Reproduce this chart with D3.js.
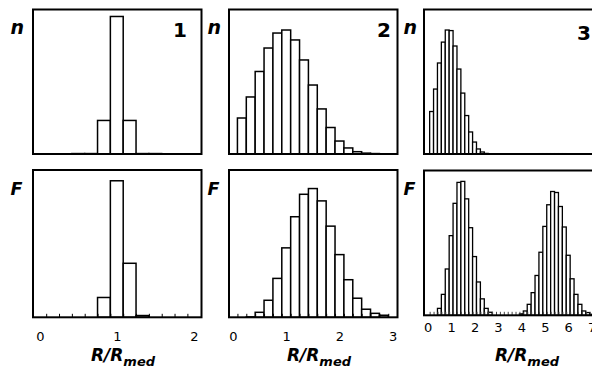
<!DOCTYPE html>
<html>
<head>
<meta charset="utf-8">
<script src="https://cdn.jsdelivr.net/npm/d3@7/dist/d3.min.js"></script>
<style>
  html, body { margin: 0; padding: 0; background: #fff; }
  svg { display: block; font-family: "DejaVu Sans", Verdana, sans-serif; }
</style>
</head>
<body>
<svg id="chart" width="592" height="372"></svg>
<script>
// Histogram bin width in units of R/Rmed; bin k (1-based) is centred at k/6.
const BIN = 1 / 6;

// Number distributions n (relative heights, % of full scale), bins k = 1, 2, ...
const nCounts1 = [0, 0, 0.3, 0.3, 23.3, 95.5, 23.3, 0.3, 0.3, 0, 0];
const nCounts2 = [25.0, 39.6, 57.3, 73.6, 84.0, 86.1, 79.2, 65.3, 47.9, 31.3, 18.4, 9.0, 4.2, 1.6, 0.6, 0.3, 0];
const nCounts3 = [29.5, 45.1, 63.2, 77.7, 86.1, 85.7, 75.0, 59.0, 42.3, 26.7, 15.3, 8.3, 3.5, 1.4, 0.4,
                  0, 0, 0, 0, 0, 0, 0, 0, 0, 0, 0, 0, 0,
                  0.25, 0.25, 0.25, 0.25, 0.25, 0.25, 0.25,
                  0, 0, 0, 0, 0, 0];

// Weighted distributions F (relative heights, % of full scale)
const fCounts1 = [0, 0, 0, 0, 13.5, 93.0, 36.8, 1.2, 0, 0, 0];
const fCounts2 = [0, 0.3, 3.4, 11.6, 26.5, 47.3, 68.5, 83.8, 87.7, 79.3, 62.1, 42.7, 25.6, 13.0, 5.5, 2.7, 1.4];
const fCounts3 = [0, 0, 4.8, 14.5, 32.1, 55.2, 77.6, 92.1, 92.8, 80.7, 60.7, 40.7, 23.1, 11.4, 4.8, 2.1,
                  0, 0, 0, 0, 0, 0, 0,
                  1.0, 3.0, 7.6, 15.7, 27.6, 43.7, 61.6, 76.6, 85.8, 85.1, 75.4, 61.2, 41.6, 25.3, 14.5, 7.6, 3.0, 1.9, 0.7];

// Tick labels on the R/Rmed axes
const ticks1 = [0, 1, 2];
const ticks2 = [0, 1, 2, 3];
const ticks3 = [0, 1, 2, 3, 4, 5, 6, 7];

// Number of bin edges marked along each F baseline
const edgeCount1 = 12;
const edgeCount2 = 18;
const edgeCount3 = 43;

const panelLabels = ["1", "2", "3"];

const svg = d3.select("#chart");

// Column geometry
const columns = [
  { left: 33, right: 201.5, domain: [-0.088, 2.1], nCounts: nCounts1, fCounts: fCounts1, ticks: ticks1,
    edges: edgeCount1, barStroke: 1.5, tickColor: "#000", label: panelLabels[0],
    labelX: 187, labelY: 37, yLabelX: 10.5, titleX: 123 },
  { left: 229, right: 397.5, domain: [-0.075, 3.09], nCounts: nCounts2, fCounts: fCounts2, ticks: ticks2,
    edges: edgeCount2, barStroke: 1.5, tickColor: "#000", label: panelLabels[1],
    labelX: 391, labelY: 37, yLabelX: 207.5, titleX: 319 },
  { left: 424, right: 593.5, domain: [-0.158, 7.08], nCounts: nCounts3, fCounts: fCounts3, ticks: ticks3,
    edges: edgeCount3, barStroke: 1.3, tickColor: "#444", label: panelLabels[2],
    labelX: 591, labelY: 40, yLabelX: 403.5, titleX: 527 }
];

const rows = [
  { key: "nCounts", top: 9.5, bottom: 154, letter: "n", letterY: 33.5, letterSize: 19 },
  { key: "fCounts", top: 170, bottom: 317.3, letter: "F", letterY: 195, letterSize: 17.5 }
];

function drawBars(g, x, y, values, strokeW) {
  const bins = values.map((v, i) => ({ k: i + 1, v }));
  g.selectAll("rect.bar")
    .data(bins.filter(d => d.v > 0))
    .join("rect")
    .attr("class", "bar")
    .attr("x", d => x((d.k - 0.5) * BIN))
    .attr("width", d => x((d.k + 0.5) * BIN) - x((d.k - 0.5) * BIN))
    .attr("y", d => y(d.v))
    .attr("height", d => y(0) - y(d.v))
    .attr("fill", "#fff")
    .attr("stroke", "#000")
    .attr("stroke-width", strokeW);
}

columns.forEach((col, ci) => {
  rows.forEach((row, ri) => {
    // the third F panel sits a touch higher
    const top = (ci === 2 && ri === 1) ? 170.5 : row.top;
    const bottom = (ci === 2 && ri === 1) ? 315.3 : row.bottom;

    const x = d3.scaleLinear().domain(col.domain).range([col.left, col.right]);
    const y = d3.scaleLinear().domain([0, 100]).range([bottom, top + 0.5]);

    const g = svg.append("g");
    const clipId = `clip-${ci}-${ri}`;
    g.append("clipPath").attr("id", clipId)
      .append("rect").attr("x", col.left).attr("y", top).attr("width", col.right - col.left).attr("height", bottom - top);

    const plot = g.append("g").attr("clip-path", `url(#${clipId})`);
    drawBars(plot, x, y, col[row.key], col.barStroke);

    if (row.key === "fCounts") {
      // short marks at the bin edges along the baseline
      const edges = d3.range(1, col.edges + 1).map(k => (k - 0.5) * BIN);
      const edgeAxis = plot.append("g")
        .attr("transform", `translate(0,${bottom})`)
        .call(d3.axisTop(x).tickValues(edges).tickSize(3.5).tickFormat(""));
      edgeAxis.select(".domain").remove();
      edgeAxis.selectAll("line").attr("stroke", col.tickColor).attr("stroke-width", 1);

      // numeric axis labels
      const pad = ci === 2 ? 7.8 : 14.6;
      const ax = g.append("g")
        .attr("transform", `translate(0,${bottom})`)
        .call(d3.axisBottom(x).tickValues(col.ticks).tickSize(0).tickPadding(pad).tickFormat(d3.format("d")));
      ax.select(".domain").remove();
      ax.selectAll("text")
        .attr("font-family", "DejaVu Sans, Verdana, sans-serif")
        .attr("font-size", 13)
        .attr("fill", "#000");

      // axis title R/Rmed
      const title = g.append("text")
        .attr("x", col.titleX)
        .attr("y", 361)
        .attr("text-anchor", "middle")
        .attr("font-weight", "bold")
        .attr("font-style", "italic")
        .attr("font-size", 17)
        .attr("fill", "#000");
      title.append("tspan").text("R/R");
      title.append("tspan").attr("font-size", 13).attr("dy", 5).text("med");
    }

    // frame
    g.append("rect")
      .attr("x", col.left).attr("y", top)
      .attr("width", col.right - col.left).attr("height", bottom - top)
      .attr("fill", "none").attr("stroke", "#000").attr("stroke-width", 2);

    // y-axis letter
    g.append("text")
      .attr("x", col.yLabelX)
      .attr("y", row.letterY)
      .attr("font-weight", "bold")
      .attr("font-style", "italic")
      .attr("font-size", row.letterSize)
      .attr("fill", "#000")
      .text(row.letter);

    if (row.key === "nCounts") {
      g.append("text")
        .attr("x", col.labelX)
        .attr("y", col.labelY)
        .attr("text-anchor", "end")
        .attr("font-weight", "bold")
        .attr("font-size", 20)
        .attr("fill", "#000")
        .text(col.label);
    }
  });
});
</script>
</body>
</html>
